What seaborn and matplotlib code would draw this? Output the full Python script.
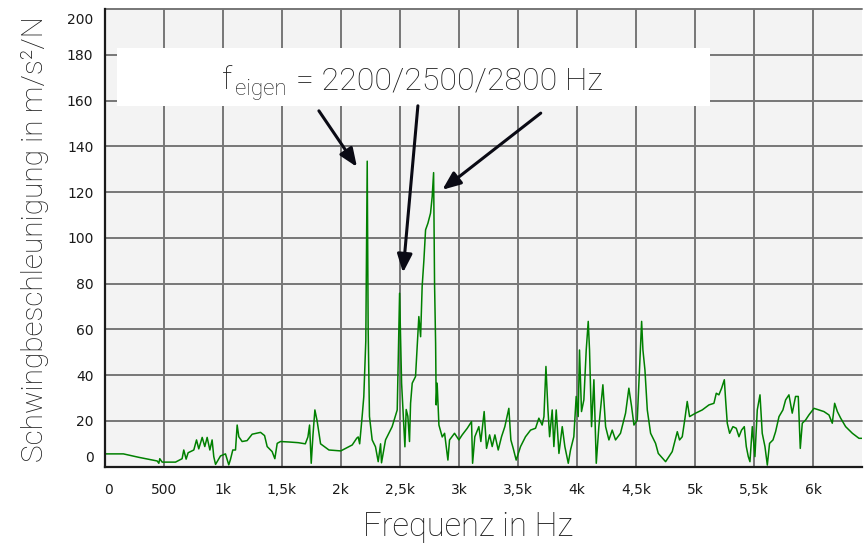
import matplotlib
matplotlib.use("Agg")
import matplotlib.pyplot as plt
import seaborn as sns
import pandas as pd
from matplotlib.patches import Rectangle
from matplotlib.transforms import ScaledTranslation

# ---------------- data ----------------
freq_hz = [
    0, 160, 290, 446, 460, 468, 488, 601, 657, 671, 691, 708, 756, 779, 798,
    827, 849, 869, 892, 911, 925, 940, 982, 1024, 1052, 1067, 1086, 1109, 1123,
    1137, 1165, 1207, 1250, 1321, 1355, 1377, 1405, 1419, 1442, 1462, 1490,
    1560, 1640, 1700, 1722, 1736, 1750, 1765, 1781, 1800, 1829, 1900, 2000,
    2097, 2136, 2148, 2160, 2181, 2195, 2212, 2224, 2232, 2243, 2266, 2294,
    2317, 2337, 2345, 2379, 2435, 2478, 2498, 2515, 2534, 2543, 2554, 2568,
    2582, 2591, 2605, 2633, 2647, 2661, 2676, 2689, 2704, 2718, 2738, 2760,
    2774, 2786, 2794, 2803, 2808, 2816, 2831, 2859, 2879, 2907, 2921, 2963,
    3000, 3028, 3071, 3107, 3116, 3135, 3169, 3186, 3214, 3234, 3260, 3282,
    3305, 3333, 3361, 3389, 3423, 3440, 3460, 3485, 3522, 3564, 3607, 3649,
    3677, 3705, 3720, 3737, 3754, 3768, 3790, 3804, 3824, 3847, 3875, 3897,
    3926, 3945, 3973, 3993, 4010, 4021, 4038, 4058, 4078, 4095, 4106, 4123,
    4143, 4163, 4185, 4219, 4242, 4270, 4298, 4326, 4368, 4411, 4439, 4462,
    4482, 4510, 4530, 4547, 4558, 4575, 4595, 4623, 4665, 4688,
    4750, 4806, 4849, 4868, 4891, 4914, 4933, 4953, 4976, 5004, 5060, 5117,
    5159, 5179, 5201, 5224, 5247, 5258, 5272, 5292, 5320, 5348, 5371, 5393,
    5416, 5433, 5450, 5464, 5484, 5506, 5526, 5549, 5568, 5591, 5611, 5630,
    5659, 5681, 5710, 5743, 5766, 5794, 5822, 5850, 5873, 5890, 5907, 5935,
    5963, 6006, 6048, 6090, 6133, 6161, 6181, 6204, 6232, 6274, 6331, 6387, 6410,
]
accel = [
    5.6, 5.6, 4.1, 2.5, 1.5, 3.5, 2.0, 2.0, 3.5, 7.3, 3.3, 6.1, 7.3, 11.7, 7.8,
    12.8, 8.8, 12.8, 7.3, 11.7, 4.4, 1.0, 4.7, 5.6, 0.8, 3.3, 7.3, 7.3, 18.2,
    13.1, 11.0, 11.4, 14.2, 15.0, 13.6, 8.8, 7.3, 6.6, 3.5, 10.2, 11.0,
    10.8, 10.5, 10.0, 13.0, 18.2, 1.5, 14.0, 24.8, 20.0, 10.0, 7.3, 6.9,
    9.5, 12.5, 13.0, 10.0, 21.9, 30.6, 55.0, 133.5, 60.0, 22.0, 11.7, 8.7,
    2.2, 10.0, 1.7, 11.7, 17.5, 24.8, 75.8, 36.5, 17.5, 8.7, 25.0, 22.0,
    11.0, 27.7, 36.5, 39.4, 52.5, 65.6, 56.8, 78.7, 90.4, 103.5, 106.4, 110.8,
    118.0, 128.5, 80.0, 54.0, 27.0, 36.5, 18.2, 13.0, 14.6, 2.9, 11.7, 14.6,
    11.7, 13.9, 16.8, 19.7, 1.5, 13.1, 17.5, 11.0, 24.1, 8.0, 13.9, 8.8,
    13.9, 7.3, 13.1, 17.5, 25.5, 11.7, 8.0, 2.9, 8.8, 13.1, 16.0, 16.8,
    21.2, 18.2, 21.9, 43.8, 24.8, 13.1, 24.8, 8.8, 24.8, 5.8, 17.5, 8.8,
    1.5, 7.3, 13.1, 30.7, 21.9, 51.0, 24.1, 29.2, 51.0, 63.5, 51.0, 17.5,
    38.0, 1.5, 17.5, 35.8, 17.5, 11.7, 16.0, 11.7, 14.6, 23.4, 34.3, 26.3,
    18.2, 20.4, 43.8, 63.5, 51.0, 42.3, 24.8, 14.6, 10.2, 5.8,
    2.2, 6.6, 15.3, 11.7, 13.1, 21.2, 28.5, 21.9, 22.6, 23.4, 24.8, 27.0,
    27.7, 32.1, 31.4, 34.3, 38.0, 29.2, 19.0, 14.6, 17.5, 16.8, 13.1, 16.0,
    17.5, 8.8, 4.4, 2.2, 17.5, 4.4, 24.8, 31.4, 14.6, 8.8, 0.7, 10.2,
    11.7, 15.3, 21.9, 24.8, 29.2, 31.4, 23.4, 30.7, 30.7, 8.0, 19.0, 20.4,
    22.6, 25.5, 24.8, 24.1, 22.6, 19.0, 27.7, 24.1, 21.2, 17.5, 14.6, 12.4, 12.4,
]
x_ticks = [0, 500, 1000, 1500, 2000, 2500, 3000, 3500, 4000, 4500, 5000, 5500, 6000]
x_tick_labels = ["0", "500", "1k", "1,5k", "2k", "2,5k", "3k", "3,5k", "4k",
                 "4,5k", "5k", "5,5k", "6k"]
y_ticks = [0, 20, 40, 60, 80, 100, 120, 140, 160, 180, 200]
x_label = "Frequenz in Hz"
y_label = "Schwingbeschleunigung in m/s²/N"
ann_main = "f"
ann_sub = "eigen"
ann_rest = "= 2200/2500/2800 Hz"
# arrows: (tail_x, tail_y, tip_x, tip_y) in data units
arrows = [(1815, 155.5, 2137, 131.0),
          (2653, 157.7, 2527, 84.8),
          (3693, 154.5, 2860, 121.0)]

# ---------------- style ----------------
sns.set_style("white")
plt.rcParams["font.family"] = ["DejaVu Sans"]

W, H = 868, 544
fig = plt.figure(figsize=(W / 100, H / 100), dpi=100)
ax_l, ax_r, ax_t, ax_b = 104.5, 861.7, 9.0, 466.7
ax = fig.add_axes([ax_l / W, (H - ax_b) / H, (ax_r - ax_l) / W, (ax_b - ax_t) / H])
ax.set_facecolor("#f3f3f3")

df = pd.DataFrame({"Frequenz": freq_hz, "Beschleunigung": accel})
sns.lineplot(data=df, x="Frequenz", y="Beschleunigung", ax=ax, color="#008000",
             lw=1.1, estimator=None, sort=True, zorder=3)

ax.set_xlim(0, 6410)
ax.set_ylim(0, 200)
ax.set_xticks(x_ticks, x_tick_labels)
ax.set_yticks(y_ticks, [str(v) for v in y_ticks])
ax.grid(True, color="#767676", lw=1.4)
ax.set_axisbelow(True)
for gl in ax.get_ygridlines():
    gl.set_clip_on(False)
for s in ["top", "right"]:
    ax.spines[s].set_visible(False)
for s in ["left", "bottom"]:
    ax.spines[s].set_color("#1a1a1a")
    ax.spines[s].set_linewidth(1.6)
    ax.spines[s].set_zorder(4)
ax.tick_params(axis="y", direction="out", length=5, width=1.2, color="#1a1a1a",
               labelsize=10, labelcolor="#1a1a1a", pad=3)
ax.tick_params(axis="x", direction="out", length=4.5, width=1.2, color="#1a1a1a",
               labelsize=10, labelcolor="#1a1a1a", pad=7.5)

ax.set_xlabel("")
ax.set_ylabel("")

# shift end labels inward like the reference
yt = ax.yaxis.get_major_ticks()
yt[0].label1.set_transform(yt[0].label1.get_transform()
                           + ScaledTranslation(0, 0.10, fig.dpi_scale_trans))
yt[-1].label1.set_transform(yt[-1].label1.get_transform()
                            + ScaledTranslation(0, -0.09, fig.dpi_scale_trans))
xt = ax.xaxis.get_major_ticks()
xt[0].label1.set_transform(xt[0].label1.get_transform()
                           + ScaledTranslation(0.04, 0, fig.dpi_scale_trans))

light = dict(family=["Roboto", "DejaVu Sans"], fontweight="light", color="#1c1c1c")

fig.text(468 / W, 1 - 527 / H, x_label, ha="center", va="center", fontsize=23.5, **light)
fig.text(35 / W, 1 - 239 / H, y_label, ha="center", va="center", rotation=90,
         fontsize=21.4, **light)

# annotation box
def px2ax(px, py):
    return (px - ax_l) / (ax_r - ax_l), (ax_b - py) / (ax_b - ax_t)

bx0, by0 = px2ax(117, 106)
bx1, by1 = px2ax(710, 48)
ax.add_patch(Rectangle((bx0, by0), bx1 - bx0, by1 - by0, transform=ax.transAxes,
                       facecolor="white", edgecolor="none", zorder=5, clip_on=False))

renderer = fig.canvas.get_renderer()
base_y = 1 - 89 / H
t1 = fig.text(222 / W, base_y, ann_main, ha="left", va="baseline", fontsize=23,
              zorder=6, **light)
bb1 = t1.get_window_extent(renderer)
t2 = fig.text((bb1.x1 + 3) / W, base_y - 6 / H, ann_sub, ha="left", va="baseline",
              fontsize=16, zorder=6, **light)
bb2 = t2.get_window_extent(renderer)
fig.text((bb2.x1 + 9) / W, base_y, ann_rest, ha="left", va="baseline", fontsize=23,
         zorder=6, **light)

for tx, ty, hx, hy in arrows:
    ax.annotate("", xy=(hx, hy), xytext=(tx, ty),
                arrowprops=dict(arrowstyle="-|>,head_length=1.1,head_width=0.45",
                                color="#0a0a14", lw=2.2, shrinkA=0, shrinkB=0),
                zorder=6)

fig.savefig("out.png", dpi=100, facecolor="white")
